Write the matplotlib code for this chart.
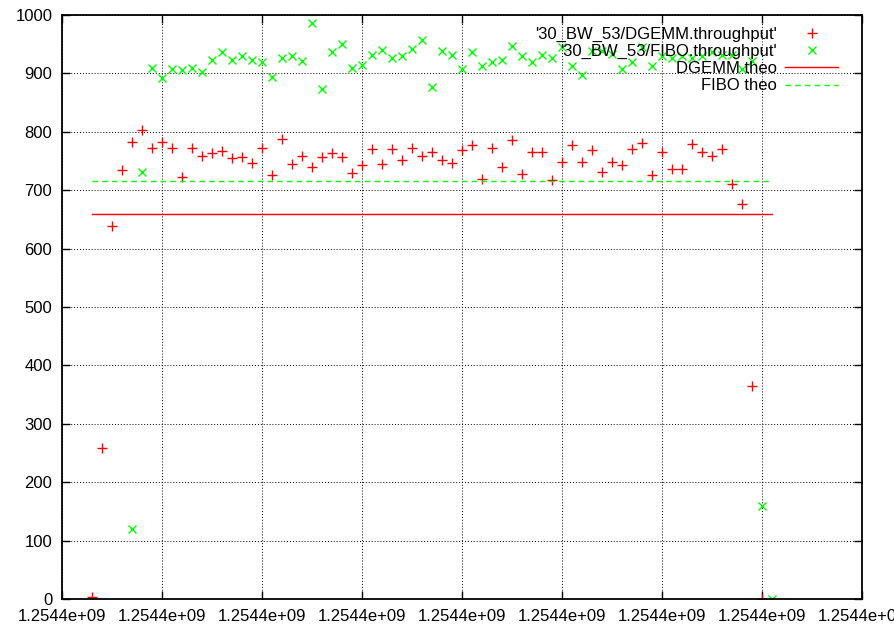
import numpy as np
import matplotlib
matplotlib.use("Agg")
import matplotlib.pyplot as plt
from matplotlib.ticker import FuncFormatter, MultipleLocator

plt.rcParams['font.family'] = ['Liberation Sans', 'DejaVu Sans']

# time axis: first sample and spacing (seconds)
t_start = 1254400000
step = 200

# measured throughput, one sample per step
dgemm = [3, 258, 639, 735, 782, 803, 773, 783, 773, 723, 772, 759, 763, 767,
         755, 756, 746, 773, 726, 787, 745, 759, 739, 757, 764, 757, 729, 743,
         770, 745, 770, 752, 772, 759, 765, 752, 747, 769, 777, 719, 773, 739,
         786, 728, 766, 766, 717, 749, 777, 749, 769, 732, 749, 743, 770, 780,
         726, 766, 736, 736, 779, 765, 759, 771, 710, 676, 365, 0]
fibo = [120, 732, 909, 892, 907, 905, 910, 903, 923, 937, 923, 930, 923, 920,
        893, 926, 929, 921, 986, 873, 937, 950, 909, 914, 932, 940, 926, 929,
        942, 957, 876, 939, 932, 907, 937, 912, 920, 923, 947, 930, 919, 932,
        926, 946, 912, 897, 938, 938, 934, 908, 920, 945, 913, 929, 927, 929,
        927, 929, 937, 932, 932, 908, 922, 159, 0]
dgemm_offset = 600   # seconds after t_start
fibo_offset = 1400

dgemm_theo = 659
fibo_theo = 716

t_dgemm = t_start + dgemm_offset + step * np.arange(len(dgemm))
t_fibo = t_start + fibo_offset + step * np.arange(len(fibo))
t_theo = [t_dgemm[0], t_fibo[-1]]

fig = plt.figure(figsize=(8.94, 6.3), dpi=100)
ax = fig.add_axes([62 / 894, 31 / 630, 800 / 894, 584 / 630])

ax.plot(t_dgemm, dgemm, '+', color='#ff0000', ms=7, mew=1.0,
        label="'30_BW_53/DGEMM.throughput'")
ax.plot(t_fibo, fibo, 'x', color='#00ff00', ms=6, mew=1.0,
        label="'30_BW_53/FIBO.throughput'")
ax.plot(t_theo, [dgemm_theo] * 2, '-', color='#ff0000', lw=1.0, label='DGEMM theo')
ax.plot(t_theo, [fibo_theo] * 2, '--', color='#00ff00', lw=1.0,
        dashes=(4, 3), label='FIBO theo')

ax.set_xlim(t_start, t_start + 16000)
ax.set_ylim(0, 1000)
ax.xaxis.set_major_locator(MultipleLocator(2000))
ax.yaxis.set_major_locator(MultipleLocator(100))
ax.xaxis.set_major_formatter(FuncFormatter(lambda v, p: '%.5g' % v))
ax.yaxis.set_major_formatter(FuncFormatter(lambda v, p: '%d' % v))

ax.grid(True, color='black', linestyle=(0, (1, 2)), linewidth=0.7)
ax.tick_params(direction='in', length=6, width=1, top=True, right=True,
               labelsize=12, pad=7)
for s in ax.spines.values():
    s.set_linewidth(1.3)

ax.legend(loc='upper right', frameon=False, markerfirst=False, fontsize=12,
          handlelength=3.2, handletextpad=0.5, labelspacing=0.13,
          borderaxespad=0.3, bbox_to_anchor=(0.985, 1.0))

fig.savefig('out.png', dpi=100)
